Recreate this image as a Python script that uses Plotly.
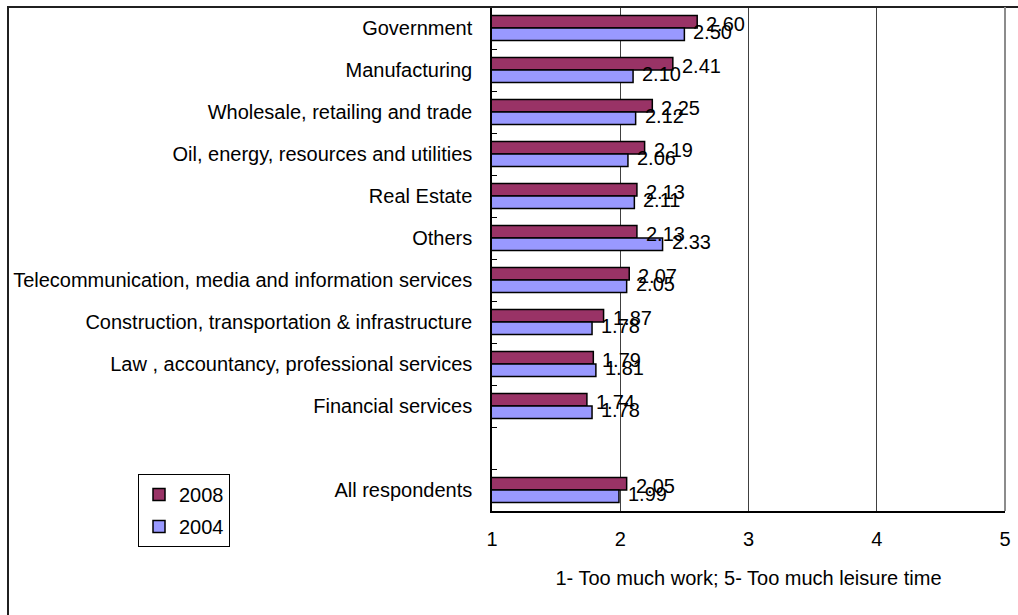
import plotly.graph_objects as go

# Sectors from top to bottom; the empty entry leaves a spacer row above the overall figure
categories = [
    "Government",
    "Manufacturing",
    "Wholesale, retailing and trade",
    "Oil, energy, resources and utilities",
    "Real Estate",
    "Others",
    "Telecommunication, media and information services",
    "Construction, transportation & infrastructure",
    "Law , accountancy, professional services",
    "Financial services",
    "",
    "All respondents",
]
values_2008 = [2.60, 2.41, 2.25, 2.19, 2.13, 2.13, 2.07, 1.87, 1.79, 1.74, None, 2.05]
values_2004 = [2.50, 2.10, 2.12, 2.06, 2.11, 2.33, 2.05, 1.78, 1.81, 1.78, None, 1.99]
x_ticks = [1, 2, 3, 4, 5]
x_title = "1- Too much work; 5- Too much leisure time"

FONT = "Liberation Sans, Arial, sans-serif"
FS = 20
W, H = 1018, 615
ML, MR, MT, MB = 492, 13, 7, 104
PW, PH = W - ML - MR, H - MT - MB

rows = list(range(len(categories)))
used = [i for i in rows if values_2008[i] is not None]


def series(name, vals, color):
    return go.Bar(
        name=name,
        legendgroup=name,
        orientation="h",
        y=[rows[i] for i in used],
        x=[vals[i] for i in used],
        marker=dict(color=color, line=dict(color="#000000", width=1.5)),
        hovertemplate="%{x:.2f}<extra>" + name + "</extra>",
    )


fig = go.Figure()
fig.add_trace(series("2008", values_2008, "#993366"))
fig.add_trace(series("2004", values_2004, "#9999FF"))

# value labels just right of each bar end; the two years' labels lean towards each other
for vals, yshift in ((values_2008, 4), (values_2004, -4)):
    for i in used:
        fig.add_annotation(
            x=vals[i], y=rows[i], xref="x", yref="y",
            text=f"{vals[i]:.2f}", showarrow=False,
            xanchor="left", yanchor="middle", xshift=7, yshift=yshift,
            font=dict(family=FONT, size=FS, color="#000000"),
        )

# outer chart frame (left and top edges visible)
fx0 = (8 - ML) / PW
fy1 = 1 + (MT - 7) / PH
fig.add_shape(type="rect", xref="paper", yref="paper",
              x0=fx0, x1=1 + (MR + 30) / PW,
              y0=-(MB + 30) / PH, y1=fy1,
              line=dict(color="#202020", width=2), layer="above")
# right edge of the plot area
fig.add_shape(type="line", xref="paper", yref="paper", x0=1, x1=1, y0=0, y1=1,
              line=dict(color="#8c8c8c", width=2), layer="above")

fig.update_layout(
    width=W, height=H,
    margin=dict(l=ML, r=MR, t=MT, b=MB, pad=0, autoexpand=False),
    paper_bgcolor="white", plot_bgcolor="white",
    barmode="group", bargap=0.4, bargroupgap=0,
    font=dict(family=FONT, size=FS, color="#000000"),
    showlegend=True,
    legend=dict(
        xref="container", yref="container",
        x=138 / W, y=1 - 474 / H, xanchor="left", yanchor="top",
        bgcolor="white", bordercolor="#000000", borderwidth=1,
        font=dict(family=FONT, size=FS, color="#000000"),
        traceorder="grouped", tracegroupgap=3,
    ),
)

fig.update_xaxes(
    range=[1, 5], tickmode="array", tickvals=x_ticks,
    ticktext=[str(t) for t in x_ticks],
    automargin=False,
    showgrid=True, gridcolor="#404040", gridwidth=1,
    zeroline=False, showline=True, linecolor="#000000", linewidth=1.5,
    ticks="", ticklabelstandoff=9,
    tickfont=dict(family=FONT, size=FS, color="#000000"),
    title=dict(text=x_title, standoff=22,
               font=dict(family=FONT, size=FS, color="#000000")),
)
fig.update_yaxes(
    range=[len(categories) - 0.5, -0.5],
    tickmode="array", tickvals=rows, ticktext=categories,
    automargin=False,
    showgrid=False, zeroline=False,
    showline=True, linecolor="#000000", linewidth=1.5,
    ticks="", ticklabelstandoff=14,
    tickfont=dict(family=FONT, size=FS, color="#000000"),
    minor=dict(tickmode="linear", tick0=0.5, dtick=1, ticks="inside",
               ticklen=5, tickcolor="#000000", tickwidth=1, showgrid=False),
)

fig.write_html("out.html")
